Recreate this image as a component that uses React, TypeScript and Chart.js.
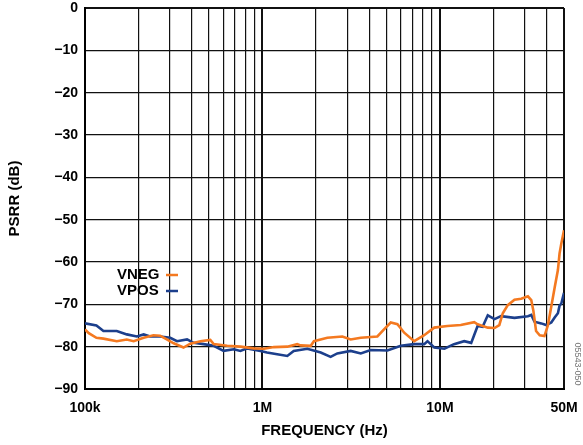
import React, { useEffect, useRef } from "react";
import { Chart, registerables } from "chart.js";

Chart.register(...registerables);

// VNEG series: frequency (Hz) and PSRR (dB)
const vnegFreq = [
  100e3, 105e3, 116e3, 127e3, 151e3, 172e3, 188e3, 214e3, 243e3, 265e3, 289e3, 316e3, 359e3, 392e3,
  447e3, 508e3, 531e3, 632e3, 751e3, 894e3, 1.02e6, 1.16e6, 1.38e6, 1.57e6, 1.64e6, 1.87e6, 1.95e6,
  2.32e6, 2.82e6, 3.14e6, 3.58e6, 4.44e6, 4.84e6, 5.28e6, 5.76e6, 6.29e6, 7.16e6, 8.15e6, 9.29e6,
  11.0e6, 13.1e6, 15.6e6, 16.3e6, 18.6e6, 20.3e6, 21.6e6, 22.6e6, 24.1e6, 26.3e6, 28.7e6, 31.3e6,
  32.7e6, 33.6e6, 34.8e6, 36.5e6, 38.8e6, 40.6e6, 42.4e6, 44.3e6, 46.2e6, 47.2e6, 48.3e6, 50e6,
];
const vnegDb = [
  -75.9, -76.8, -77.9, -78.1, -78.7, -78.3, -78.7, -77.9, -77.3, -77.4, -78.3, -79.2, -80.2, -79.3,
  -78.7, -78.4, -79.4, -79.8, -80.0, -80.4, -80.5, -80.1, -80.0, -79.4, -79.7, -79.8, -78.7,
  -77.9, -77.6, -78.3, -77.9, -77.6, -75.9, -74.3, -74.7, -76.7, -78.7, -77.3, -75.5,
  -75.1, -74.9, -74.2, -74.7, -75.5, -75.6, -74.9, -72.1, -70.2, -68.9, -68.7, -68.1,
  -69.0, -71.5, -76.3, -77.3, -77.5, -74.9, -70.5, -66.0, -61.9, -58.0, -55.6, -52.5,
];

// VPOS series: frequency (Hz) and PSRR (dB)
const vposFreq = [
  100e3, 116e3, 127e3, 151e3, 172e3, 196e3, 214e3, 233e3, 265e3, 302e3, 330e3, 376e3, 409e3, 466e3,
  531e3, 604e3, 689e3, 751e3, 820e3, 975e3, 1.06e6, 1.21e6, 1.38e6, 1.5e6, 1.79e6, 2.13e6, 2.42e6,
  2.64e6, 3.14e6, 3.58e6, 4.07e6, 5.06e6, 6.02e6, 7.16e6, 8.15e6, 8.51e6, 9.29e6, 10.6e6, 12.0e6,
  13.7e6, 15.0e6, 16.3e6, 17.4e6, 18.6e6, 20.3e6, 22.1e6, 26.3e6, 31.3e6, 32.7e6, 34.1e6, 37.2e6,
  39.7e6, 42.4e6, 44.3e6, 46.2e6, 47.2e6, 48.3e6, 50e6,
];
const vposDb = [
  -74.5, -75.0, -76.3, -76.3, -77.1, -77.6, -77.1, -77.6, -77.6, -77.9, -78.7, -78.3, -79.1, -79.4,
  -79.8, -81.0, -80.6, -81.0, -80.4, -81.0, -81.4, -81.8, -82.2, -81.0, -80.5, -81.4, -82.4,
  -81.6, -81.0, -81.6, -80.8, -80.9, -79.8, -79.4, -79.4, -78.7, -80.2, -80.5, -79.4,
  -78.7, -79.1, -75.1, -75.3, -72.6, -73.5, -72.8, -73.2, -72.8, -72.5, -74.1, -74.5,
  -74.9, -74.3, -73.1, -72.1, -70.3, -69.8, -67.3,
];

// Axis ticks
const xTickValues = [
  1e5, 2e5, 3e5, 4e5, 5e5, 6e5, 7e5, 8e5, 9e5,
  1e6, 2e6, 3e6, 4e6, 5e6, 6e6, 7e6, 8e6, 9e6,
  1e7, 2e7, 3e7, 4e7, 5e7,
];
const xTickLabels: Record<number, string> = { 1e5: "100k", 1e6: "1M", 1e7: "10M", 5e7: "50M" };
const majorX = [1e5, 1e6, 1e7, 5e7];

const seriesNames = ["VNEG", "VPOS"];
const seriesColors = ["#F47920", "#1C3F8C"];
const chartId = "05543-050";

const FONT = "'Liberation Sans', Arial, Helvetica, sans-serif";

function zeroPad(scale: any) {
  scale.paddingTop = 0;
  scale.paddingBottom = 0;
  scale.paddingLeft = 0;
  scale.paddingRight = 0;
}

export default function App() {
  const ref = useRef<HTMLCanvasElement | null>(null);

  useEffect(() => {
    if (!ref.current) return;

    const overlay = {
      id: "overlay",
      afterDraw(chart: any) {
        const { ctx, chartArea } = chart;
        ctx.save();
        // legend
        ctx.font = `bold 15px ${FONT}`;
        ctx.textBaseline = "middle";
        ctx.textAlign = "left";
        const lx = chartArea.left + 32;
        const ys = [chartArea.top + 267, chartArea.top + 283];
        seriesNames.forEach((n, i) => {
          ctx.fillStyle = "#000";
          ctx.fillText(n, lx, ys[i]);
          ctx.strokeStyle = seriesColors[i];
          ctx.lineWidth = 2.5;
          ctx.beginPath();
          ctx.moveTo(lx + 49, ys[i]);
          ctx.lineTo(lx + 61, ys[i]);
          ctx.stroke();
        });
        // figure id
        ctx.translate(chartArea.right + 13, chartArea.bottom - 25);
        ctx.rotate(Math.PI / 2);
        ctx.font = `9px ${FONT}`;
        ctx.fillStyle = "#777";
        ctx.textAlign = "center";
        ctx.fillText(chartId, 0, 0);
        ctx.restore();
      },
    };

    const chart = new Chart(ref.current, {
      type: "line",
      data: {
        datasets: [
          {
            label: seriesNames[0],
            data: vnegFreq.map((f, i) => ({ x: f, y: vnegDb[i] })),
            borderColor: seriesColors[0],
            borderWidth: 2.6,
            pointRadius: 0,
            tension: 0,
          },
          {
            label: seriesNames[1],
            data: vposFreq.map((f, i) => ({ x: f, y: vposDb[i] })),
            borderColor: seriesColors[1],
            borderWidth: 2.6,
            pointRadius: 0,
            tension: 0,
          },
        ],
      },
      plugins: [overlay],
      options: {
        responsive: false,
        animation: false,
        layout: { padding: { top: 8, right: 19, bottom: 0, left: 0 } },
        plugins: { legend: { display: false }, tooltip: { enabled: false } },
        scales: {
          x: {
            type: "logarithmic",
            min: 1e5,
            max: 5e7,
            afterBuildTicks: (scale: any) => {
              scale.ticks = xTickValues.map((v) => ({ value: v }));
            },
            afterFit: (scale: any) => {
              scale.height = 56;
              zeroPad(scale);
            },
            ticks: {
              autoSkip: false,
              maxRotation: 0,
              padding: 11,
              color: "#000",
              font: { family: FONT, size: 14, weight: "bold" },
              callback: (v: any) => xTickLabels[v as number] ?? "",
            },
            grid: {
              drawTicks: false,
              color: "#111",
              lineWidth: (c: any) => (majorX.includes(c.tick?.value) ? 2 : 1.2),
            },
            border: { color: "#000", width: 2 },
            title: {
              display: true,
              text: "FREQUENCY (Hz)",
              color: "#000",
              font: { family: FONT, size: 15, weight: "bold" },
              padding: { top: 0, bottom: 5 },
            },
          },
          y: {
            min: -90,
            max: 0,
            afterFit: (scale: any) => {
              scale.width = 85;
              zeroPad(scale);
            },
            ticks: {
              stepSize: 10,
              padding: 7,
              color: "#000",
              font: { family: FONT, size: 14, weight: "bold" },
              callback: (v: any) => (v === 0 ? "0" : "\u2212" + Math.abs(v)),
            },
            grid: {
              drawTicks: false,
              color: "#111",
              lineWidth: (c: any) => (c.tick?.value === 0 ? 2 : 1.2),
            },
            border: { color: "#000", width: 2 },
            title: {
              display: true,
              text: "PSRR (dB)",
              color: "#000",
              font: { family: FONT, size: 15, weight: "bold" },
              padding: { top: 6, bottom: 0 },
            },
          },
        },
      },
    } as any);

    return () => chart.destroy();
  }, []);

  return (
    <div style={{ position: "absolute", left: 0, top: 0, width: 583, height: 445, background: "#fff" }}>
      <canvas ref={ref} width={583} height={445} />
    </div>
  );
}
